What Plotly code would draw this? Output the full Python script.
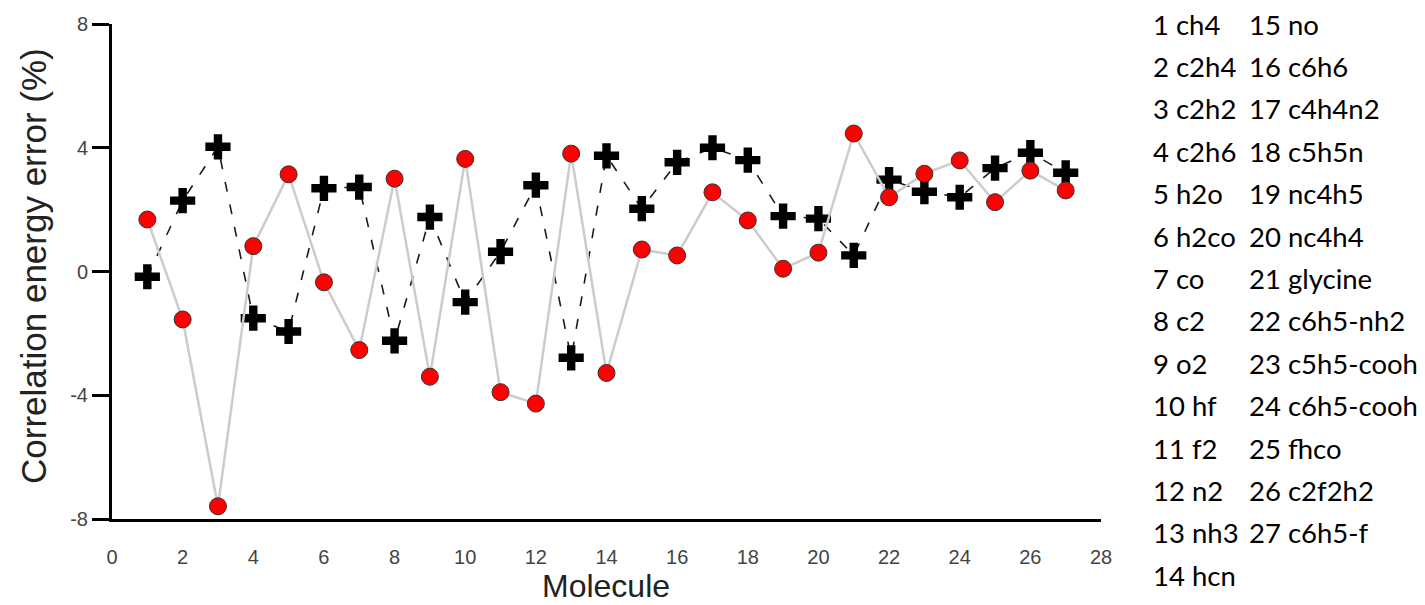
import plotly.graph_objects as go

molecule_idx = list(range(1, 28))
method_a = [1.68, -1.55, -7.59, 0.82, 3.14, -0.35, -2.54, 3.00, -3.40, 3.64,
            -3.90, -4.27, 3.81, -3.28, 0.71, 0.52, 2.56, 1.65, 0.09, 0.61,
            4.46, 2.40, 3.16, 3.59, 2.24, 3.26, 2.62]
method_b = [-0.17, 2.29, 4.03, -1.51, -1.94, 2.69, 2.73, -2.24, 1.76, -0.99,
            0.64, 2.79, -2.79, 3.74, 2.03, 3.53, 4.00, 3.60, 1.79, 1.71,
            0.52, 2.97, 2.58, 2.40, 3.34, 3.84, 3.19]
molecule_names = ["ch4", "c2h4", "c2h2", "c2h6", "h2o", "h2co", "co", "c2", "o2",
                  "hf", "f2", "n2", "nh3", "hcn", "no", "c6h6", "c4h4n2", "c5h5n",
                  "nc4h5", "nc4h4", "glycine", "c6h5-nh2", "c5h5-cooh",
                  "c6h5-cooh", "fhco", "c2f2h2", "c6h5-f"]
x_ticks = list(range(0, 29, 2))
y_ticks = [-8, -4, 0, 4, 8]
y_ticktext = ["-8", "-4", "0", "4", "8"]

fig = go.Figure()
fig.add_trace(go.Scatter(
    x=molecule_idx, y=method_b, mode="lines+markers",
    line=dict(color="#1a1a1a", width=1.6, dash="10px,13px"),
    marker=dict(symbol="cross", size=21, color="black", line=dict(width=0)),
    cliponaxis=False, showlegend=False))
fig.add_trace(go.Scatter(
    x=molecule_idx, y=method_a, mode="lines+markers",
    line=dict(color="#cccccc", width=2.5),
    marker=dict(symbol="circle", size=17, color="#ff0000",
                line=dict(color="#333333", width=1)),
    cliponaxis=False, showlegend=False))

# page body has an 8px default margin; work in window pixels and offset
OFF = 8
W, H = 1425 - OFF, 605 - OFF
L, T = 112 - OFF, 24 - OFF
pw, ph = 989, 495
R, B = W - L - pw, H - T - ph


def px_x(px):
    return (px - OFF - L) / pw


def px_y(py):
    return (T + ph - (py - OFF)) / ph


annotations = []
n_left = 14
row_gap = 42.4
for i, name in enumerate(molecule_names):
    col = 0 if i < n_left else 1
    row = i if i < n_left else i - n_left
    annotations.append(dict(
        text=f"{i + 1} {name}", xref="paper", yref="paper",
        x=px_x(1151 if col == 0 else 1247), y=px_y(24 + row_gap * row),
        xanchor="left", yanchor="middle", showarrow=False,
        font=dict(family="Lato", size=27.5, color="black")))

annotations.append(dict(
    text="Molecule", xref="paper", yref="paper",
    x=px_x(606), y=px_y(586), xanchor="center", yanchor="middle",
    showarrow=False, font=dict(family="Liberation Sans", size=32, color="#222222")))
annotations.append(dict(
    text="Correlation energy error (%)", xref="paper", yref="paper",
    x=px_x(33), y=px_y(266), xanchor="center", yanchor="middle",
    textangle=-90, showarrow=False,
    font=dict(family="Liberation Sans", size=35, color="#222222")))

fig.update_layout(
    width=W, height=H,
    margin=dict(l=L, r=R, t=T, b=B, autoexpand=False),
    paper_bgcolor="white", plot_bgcolor="white",
    font=dict(family="Liberation Sans", color="#444444"),
    xaxis=dict(range=[0, 28], tickvals=x_ticks, showgrid=False, zeroline=False,
               showline=True, linecolor="black", linewidth=3,
               ticks="", ticklabelstandoff=18, automargin=False,
               tickfont=dict(size=20, color="#444444")),
    yaxis=dict(range=[-8, 8], tickvals=y_ticks, ticktext=y_ticktext,
               showgrid=False, zeroline=False,
               showline=True, linecolor="black", linewidth=3,
               ticks="outside", ticklen=17, tickwidth=3, tickcolor="black",
               ticklabelstandoff=0, automargin=False,
               tickfont=dict(size=20, color="#444444")),
    annotations=annotations,
)

fig.write_html("out.html")
